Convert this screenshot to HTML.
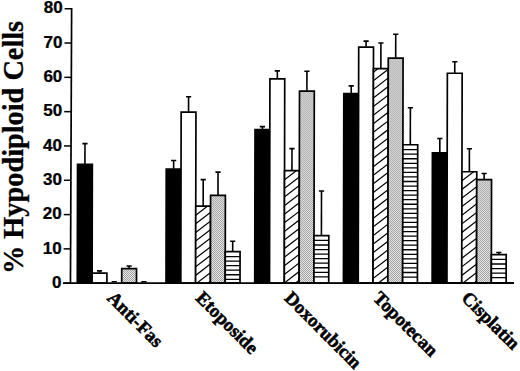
<!DOCTYPE html><html><head><meta charset="utf-8"><style>html,body{margin:0;padding:0;background:#fff;overflow:hidden;}svg{display:block;}</style></head><body>
<svg width="520" height="371" viewBox="0 0 520 371">
<defs>
<pattern id="dots" patternUnits="userSpaceOnUse" width="2" height="2"><rect width="2" height="2" fill="#f4f4f4"/><rect width="1" height="1" fill="#949494"/><rect x="1" y="1" width="1" height="1" fill="#949494"/></pattern>
<clipPath id="c00"><rect x="77.30" y="164.45" width="14.80" height="118.75"/></clipPath>
<clipPath id="c01"><rect x="92.10" y="273.05" width="14.80" height="10.15"/></clipPath>
<clipPath id="c02"><rect x="106.90" y="282.85" width="14.80" height="0.35"/></clipPath>
<clipPath id="c03"><rect x="121.70" y="268.65" width="14.80" height="14.55"/></clipPath>
<clipPath id="c04"><rect x="136.50" y="282.85" width="14.80" height="0.35"/></clipPath>
<clipPath id="c10"><rect x="166.01" y="169.05" width="14.80" height="114.15"/></clipPath>
<clipPath id="c11"><rect x="180.81" y="112.10" width="14.80" height="171.10"/></clipPath>
<clipPath id="c12"><rect x="195.61" y="206.15" width="14.80" height="77.05"/></clipPath>
<clipPath id="c13"><rect x="210.41" y="195.35" width="14.80" height="87.85"/></clipPath>
<clipPath id="c14"><rect x="225.21" y="251.65" width="14.80" height="31.55"/></clipPath>
<clipPath id="c20"><rect x="254.72" y="129.55" width="14.80" height="153.65"/></clipPath>
<clipPath id="c21"><rect x="269.52" y="78.85" width="14.80" height="204.35"/></clipPath>
<clipPath id="c22"><rect x="284.32" y="170.65" width="14.80" height="112.55"/></clipPath>
<clipPath id="c23"><rect x="299.12" y="91.05" width="14.80" height="192.15"/></clipPath>
<clipPath id="c24"><rect x="313.92" y="235.55" width="14.80" height="47.65"/></clipPath>
<clipPath id="c30"><rect x="343.43" y="93.55" width="14.80" height="189.65"/></clipPath>
<clipPath id="c31"><rect x="358.23" y="47.15" width="14.80" height="236.05"/></clipPath>
<clipPath id="c32"><rect x="373.03" y="68.65" width="14.80" height="214.55"/></clipPath>
<clipPath id="c33"><rect x="387.83" y="58.15" width="14.80" height="225.05"/></clipPath>
<clipPath id="c34"><rect x="402.63" y="144.75" width="14.80" height="138.45"/></clipPath>
<clipPath id="c40"><rect x="432.14" y="152.85" width="14.80" height="130.35"/></clipPath>
<clipPath id="c41"><rect x="446.94" y="73.25" width="14.80" height="209.95"/></clipPath>
<clipPath id="c42"><rect x="461.74" y="171.75" width="14.80" height="111.45"/></clipPath>
<clipPath id="c43"><rect x="476.54" y="179.65" width="14.80" height="103.55"/></clipPath>
<clipPath id="c44"><rect x="491.34" y="254.55" width="14.80" height="28.65"/></clipPath>
</defs>
<rect width="520" height="371" fill="#fff"/>
<g transform="translate(0.566,0) skewX(-0.1146)">
<rect x="77.30" y="164.45" width="14.80" height="118.75" fill="#000" stroke="#000" stroke-width="1.7"/>
<line x1="84.70" x2="84.70" y1="143.60" y2="164.10" stroke="#000" stroke-width="1.6"/>
<rect x="82.10" y="142.80" width="5.2" height="1.6" fill="#000"/>
<rect x="92.10" y="273.05" width="14.80" height="10.15" fill="#fff" stroke="#000" stroke-width="1.7"/>
<line x1="99.50" x2="99.50" y1="270.90" y2="272.70" stroke="#000" stroke-width="1.6"/>
<rect x="96.90" y="270.10" width="5.2" height="1.6" fill="#000"/>
<rect x="111.70" y="280.90" width="5.2" height="1.6" fill="#000"/>
<rect x="121.70" y="268.65" width="14.80" height="14.55" fill="url(#dots)" stroke="#000" stroke-width="1.7"/>
<line x1="129.10" x2="129.10" y1="266.00" y2="268.30" stroke="#000" stroke-width="1.6"/>
<rect x="126.50" y="265.20" width="5.2" height="1.6" fill="#000"/>
<rect x="141.30" y="280.90" width="5.2" height="1.6" fill="#000"/>
<rect x="166.01" y="169.05" width="14.80" height="114.15" fill="#000" stroke="#000" stroke-width="1.7"/>
<line x1="173.41" x2="173.41" y1="160.50" y2="168.70" stroke="#000" stroke-width="1.6"/>
<rect x="170.81" y="159.70" width="5.2" height="1.6" fill="#000"/>
<rect x="180.81" y="112.10" width="14.80" height="171.10" fill="#fff" stroke="#000" stroke-width="1.7"/>
<line x1="188.21" x2="188.21" y1="96.80" y2="111.75" stroke="#000" stroke-width="1.6"/>
<rect x="185.61" y="96.00" width="5.2" height="1.6" fill="#000"/>
<rect x="195.61" y="206.15" width="14.80" height="77.05" fill="#fff"/>
<path clip-path="url(#c12)" d="M194.61,207.37L211.41,194.43M194.61,215.97L211.41,203.03M194.61,224.57L211.41,211.63M194.61,233.17L211.41,220.23M194.61,241.77L211.41,228.83M194.61,250.37L211.41,237.43M194.61,258.97L211.41,246.03M194.61,267.57L211.41,254.63M194.61,276.17L211.41,263.23M194.61,284.77L211.41,271.83M194.61,293.37L211.41,280.43" stroke="#000" stroke-width="1.2" fill="none"/>
<rect x="195.61" y="206.15" width="14.80" height="77.05" fill="none" stroke="#000" stroke-width="1.7"/>
<line x1="203.01" x2="203.01" y1="179.60" y2="205.80" stroke="#000" stroke-width="1.6"/>
<rect x="200.41" y="178.80" width="5.2" height="1.6" fill="#000"/>
<rect x="210.41" y="195.35" width="14.80" height="87.85" fill="url(#dots)" stroke="#000" stroke-width="1.7"/>
<line x1="217.81" x2="217.81" y1="172.10" y2="195.00" stroke="#000" stroke-width="1.6"/>
<rect x="215.21" y="171.30" width="5.2" height="1.6" fill="#000"/>
<rect x="225.21" y="251.65" width="14.80" height="31.55" fill="#fff" stroke="#000" stroke-width="1.7"/>
<path d="M225.21,256.55H240.01M225.21,261.10H240.01M225.21,265.65H240.01M225.21,270.20H240.01M225.21,274.75H240.01M225.21,279.30H240.01" stroke="#000" stroke-width="1.3"/>
<line x1="232.61" x2="232.61" y1="241.30" y2="251.30" stroke="#000" stroke-width="1.6"/>
<rect x="230.01" y="240.50" width="5.2" height="1.6" fill="#000"/>
<rect x="254.72" y="129.55" width="14.80" height="153.65" fill="#000" stroke="#000" stroke-width="1.7"/>
<line x1="262.12" x2="262.12" y1="126.60" y2="129.20" stroke="#000" stroke-width="1.6"/>
<rect x="259.52" y="125.80" width="5.2" height="1.6" fill="#000"/>
<rect x="269.52" y="78.85" width="14.80" height="204.35" fill="#fff" stroke="#000" stroke-width="1.7"/>
<line x1="276.92" x2="276.92" y1="70.90" y2="78.50" stroke="#000" stroke-width="1.6"/>
<rect x="274.32" y="70.10" width="5.2" height="1.6" fill="#000"/>
<rect x="284.32" y="170.65" width="14.80" height="112.55" fill="#fff"/>
<path clip-path="url(#c22)" d="M283.32,171.95L300.12,159.01M283.32,180.55L300.12,167.61M283.32,189.15L300.12,176.21M283.32,197.75L300.12,184.81M283.32,206.35L300.12,193.41M283.32,214.95L300.12,202.01M283.32,223.55L300.12,210.61M283.32,232.15L300.12,219.21M283.32,240.75L300.12,227.81M283.32,249.35L300.12,236.41M283.32,257.95L300.12,245.01M283.32,266.55L300.12,253.61M283.32,275.15L300.12,262.21M283.32,283.75L300.12,270.81M283.32,292.35L300.12,279.41" stroke="#000" stroke-width="1.2" fill="none"/>
<rect x="284.32" y="170.65" width="14.80" height="112.55" fill="none" stroke="#000" stroke-width="1.7"/>
<line x1="291.72" x2="291.72" y1="148.60" y2="170.30" stroke="#000" stroke-width="1.6"/>
<rect x="289.12" y="147.80" width="5.2" height="1.6" fill="#000"/>
<rect x="299.12" y="91.05" width="14.80" height="192.15" fill="url(#dots)" stroke="#000" stroke-width="1.7"/>
<line x1="306.52" x2="306.52" y1="71.30" y2="90.70" stroke="#000" stroke-width="1.6"/>
<rect x="303.92" y="70.50" width="5.2" height="1.6" fill="#000"/>
<rect x="313.92" y="235.55" width="14.80" height="47.65" fill="#fff" stroke="#000" stroke-width="1.7"/>
<path d="M313.92,240.45H328.72M313.92,245.00H328.72M313.92,249.55H328.72M313.92,254.10H328.72M313.92,258.65H328.72M313.92,263.20H328.72M313.92,267.75H328.72M313.92,272.30H328.72M313.92,276.85H328.72" stroke="#000" stroke-width="1.3"/>
<line x1="321.32" x2="321.32" y1="191.00" y2="235.20" stroke="#000" stroke-width="1.6"/>
<rect x="318.72" y="190.20" width="5.2" height="1.6" fill="#000"/>
<rect x="343.43" y="93.55" width="14.80" height="189.65" fill="#000" stroke="#000" stroke-width="1.7"/>
<line x1="350.83" x2="350.83" y1="85.90" y2="93.20" stroke="#000" stroke-width="1.6"/>
<rect x="348.23" y="85.10" width="5.2" height="1.6" fill="#000"/>
<rect x="358.23" y="47.15" width="14.80" height="236.05" fill="#fff" stroke="#000" stroke-width="1.7"/>
<line x1="365.63" x2="365.63" y1="41.10" y2="46.80" stroke="#000" stroke-width="1.6"/>
<rect x="363.03" y="40.30" width="5.2" height="1.6" fill="#000"/>
<rect x="373.03" y="68.65" width="14.80" height="214.55" fill="#fff"/>
<path clip-path="url(#c32)" d="M372.03,72.91L388.83,59.97M372.03,81.51L388.83,68.57M372.03,90.11L388.83,77.17M372.03,98.71L388.83,85.77M372.03,107.31L388.83,94.37M372.03,115.91L388.83,102.97M372.03,124.51L388.83,111.57M372.03,133.11L388.83,120.17M372.03,141.71L388.83,128.77M372.03,150.31L388.83,137.37M372.03,158.91L388.83,145.97M372.03,167.51L388.83,154.57M372.03,176.11L388.83,163.17M372.03,184.71L388.83,171.77M372.03,193.31L388.83,180.37M372.03,201.91L388.83,188.97M372.03,210.51L388.83,197.57M372.03,219.11L388.83,206.17M372.03,227.71L388.83,214.77M372.03,236.31L388.83,223.37M372.03,244.91L388.83,231.97M372.03,253.51L388.83,240.57M372.03,262.11L388.83,249.17M372.03,270.71L388.83,257.77M372.03,279.31L388.83,266.37M372.03,287.91L388.83,274.97M372.03,296.51L388.83,283.57" stroke="#000" stroke-width="1.2" fill="none"/>
<rect x="373.03" y="68.65" width="14.80" height="214.55" fill="none" stroke="#000" stroke-width="1.7"/>
<line x1="380.43" x2="380.43" y1="43.00" y2="68.30" stroke="#000" stroke-width="1.6"/>
<rect x="377.83" y="42.20" width="5.2" height="1.6" fill="#000"/>
<rect x="387.83" y="58.15" width="14.80" height="225.05" fill="url(#dots)" stroke="#000" stroke-width="1.7"/>
<line x1="395.23" x2="395.23" y1="34.20" y2="57.80" stroke="#000" stroke-width="1.6"/>
<rect x="392.63" y="33.40" width="5.2" height="1.6" fill="#000"/>
<rect x="402.63" y="144.75" width="14.80" height="138.45" fill="#fff" stroke="#000" stroke-width="1.7"/>
<path d="M402.63,149.65H417.43M402.63,154.20H417.43M402.63,158.75H417.43M402.63,163.30H417.43M402.63,167.85H417.43M402.63,172.40H417.43M402.63,176.95H417.43M402.63,181.50H417.43M402.63,186.05H417.43M402.63,190.60H417.43M402.63,195.15H417.43M402.63,199.70H417.43M402.63,204.25H417.43M402.63,208.80H417.43M402.63,213.35H417.43M402.63,217.90H417.43M402.63,222.45H417.43M402.63,227.00H417.43M402.63,231.55H417.43M402.63,236.10H417.43M402.63,240.65H417.43M402.63,245.20H417.43M402.63,249.75H417.43M402.63,254.30H417.43M402.63,258.85H417.43M402.63,263.40H417.43M402.63,267.95H417.43M402.63,272.50H417.43M402.63,277.05H417.43" stroke="#000" stroke-width="1.3"/>
<line x1="410.03" x2="410.03" y1="107.80" y2="144.40" stroke="#000" stroke-width="1.6"/>
<rect x="407.43" y="107.00" width="5.2" height="1.6" fill="#000"/>
<rect x="432.14" y="152.85" width="14.80" height="130.35" fill="#000" stroke="#000" stroke-width="1.7"/>
<line x1="439.54" x2="439.54" y1="138.50" y2="152.50" stroke="#000" stroke-width="1.6"/>
<rect x="436.94" y="137.70" width="5.2" height="1.6" fill="#000"/>
<rect x="446.94" y="73.25" width="14.80" height="209.95" fill="#fff" stroke="#000" stroke-width="1.7"/>
<line x1="454.34" x2="454.34" y1="61.70" y2="72.90" stroke="#000" stroke-width="1.6"/>
<rect x="451.74" y="60.90" width="5.2" height="1.6" fill="#000"/>
<rect x="461.74" y="171.75" width="14.80" height="111.45" fill="#fff"/>
<path clip-path="url(#c42)" d="M460.74,172.98L477.54,160.04M460.74,181.58L477.54,168.64M460.74,190.18L477.54,177.24M460.74,198.78L477.54,185.84M460.74,207.38L477.54,194.44M460.74,215.98L477.54,203.04M460.74,224.58L477.54,211.64M460.74,233.18L477.54,220.24M460.74,241.78L477.54,228.84M460.74,250.38L477.54,237.44M460.74,258.98L477.54,246.04M460.74,267.58L477.54,254.64M460.74,276.18L477.54,263.24M460.74,284.78L477.54,271.84M460.74,293.38L477.54,280.44" stroke="#000" stroke-width="1.2" fill="none"/>
<rect x="461.74" y="171.75" width="14.80" height="111.45" fill="none" stroke="#000" stroke-width="1.7"/>
<line x1="469.14" x2="469.14" y1="148.70" y2="171.40" stroke="#000" stroke-width="1.6"/>
<rect x="466.54" y="147.90" width="5.2" height="1.6" fill="#000"/>
<rect x="476.54" y="179.65" width="14.80" height="103.55" fill="url(#dots)" stroke="#000" stroke-width="1.7"/>
<line x1="483.94" x2="483.94" y1="173.50" y2="179.30" stroke="#000" stroke-width="1.6"/>
<rect x="481.34" y="172.70" width="5.2" height="1.6" fill="#000"/>
<rect x="491.34" y="254.55" width="14.80" height="28.65" fill="#fff" stroke="#000" stroke-width="1.7"/>
<path d="M491.34,259.45H506.14M491.34,264.00H506.14M491.34,268.55H506.14M491.34,273.10H506.14M491.34,277.65H506.14" stroke="#000" stroke-width="1.3"/>
<line x1="498.74" x2="498.74" y1="252.50" y2="254.20" stroke="#000" stroke-width="1.6"/>
<rect x="496.14" y="251.70" width="5.2" height="1.6" fill="#000"/>
</g>
<line x1="71.63" y1="7.9" x2="70.45" y2="284.1" stroke="#000" stroke-width="1.7"/>
<line x1="63" y1="283.2" x2="514" y2="283.0" stroke="#000" stroke-width="1.8"/>
<line x1="63.45" y1="283.20" x2="70.45" y2="283.20" stroke="#000" stroke-width="1.5"/>
<text transform="translate(61.45,287.90) scale(1.065,1)" text-anchor="end" font-family="Liberation Sans" font-weight="bold" font-size="16" fill="#000" stroke="#000" stroke-width="0.25">0</text>
<line x1="63.60" y1="248.89" x2="70.60" y2="248.89" stroke="#000" stroke-width="1.5"/>
<text transform="translate(61.60,253.59) scale(1.065,1)" text-anchor="end" font-family="Liberation Sans" font-weight="bold" font-size="16" fill="#000" stroke="#000" stroke-width="0.25">10</text>
<line x1="63.75" y1="214.58" x2="70.75" y2="214.58" stroke="#000" stroke-width="1.5"/>
<text transform="translate(61.75,219.28) scale(1.065,1)" text-anchor="end" font-family="Liberation Sans" font-weight="bold" font-size="16" fill="#000" stroke="#000" stroke-width="0.25">20</text>
<line x1="63.89" y1="180.27" x2="70.89" y2="180.27" stroke="#000" stroke-width="1.5"/>
<text transform="translate(61.89,184.97) scale(1.065,1)" text-anchor="end" font-family="Liberation Sans" font-weight="bold" font-size="16" fill="#000" stroke="#000" stroke-width="0.25">30</text>
<line x1="64.04" y1="145.96" x2="71.04" y2="145.96" stroke="#000" stroke-width="1.5"/>
<text transform="translate(62.04,150.66) scale(1.065,1)" text-anchor="end" font-family="Liberation Sans" font-weight="bold" font-size="16" fill="#000" stroke="#000" stroke-width="0.25">40</text>
<line x1="64.19" y1="111.65" x2="71.19" y2="111.65" stroke="#000" stroke-width="1.5"/>
<text transform="translate(62.19,116.35) scale(1.065,1)" text-anchor="end" font-family="Liberation Sans" font-weight="bold" font-size="16" fill="#000" stroke="#000" stroke-width="0.25">50</text>
<line x1="64.34" y1="77.34" x2="71.34" y2="77.34" stroke="#000" stroke-width="1.5"/>
<text transform="translate(62.34,82.04) scale(1.065,1)" text-anchor="end" font-family="Liberation Sans" font-weight="bold" font-size="16" fill="#000" stroke="#000" stroke-width="0.25">60</text>
<line x1="64.48" y1="43.03" x2="71.48" y2="43.03" stroke="#000" stroke-width="1.5"/>
<text transform="translate(62.48,47.73) scale(1.065,1)" text-anchor="end" font-family="Liberation Sans" font-weight="bold" font-size="16" fill="#000" stroke="#000" stroke-width="0.25">70</text>
<line x1="64.63" y1="8.72" x2="71.63" y2="8.72" stroke="#000" stroke-width="1.5"/>
<text transform="translate(62.63,13.42) scale(1.065,1)" text-anchor="end" font-family="Liberation Sans" font-weight="bold" font-size="16" fill="#000" stroke="#000" stroke-width="0.25">80</text>
<text transform="translate(23.1,274.0) scale(1.03,1) rotate(-90)" font-family="Liberation Serif" font-weight="bold" font-size="28.3" stroke="#000" stroke-width="0.3" fill="#000">% Hypodiploid Cells</text>
<text transform="translate(106.20,299.00) rotate(45)" font-family="Liberation Serif" font-weight="bold" font-size="18.8" fill="#000" stroke="#000" stroke-width="0.55">Anti-Fas</text>
<text transform="translate(194.80,299.00) rotate(45)" font-family="Liberation Serif" font-weight="bold" font-size="18.8" fill="#000" stroke="#000" stroke-width="0.55">Etoposide</text>
<text transform="translate(283.40,299.00) rotate(45)" font-family="Liberation Serif" font-weight="bold" font-size="18.8" fill="#000" stroke="#000" stroke-width="0.55">Doxorubicin</text>
<text transform="translate(372.00,299.00) rotate(45)" font-family="Liberation Serif" font-weight="bold" font-size="18.8" fill="#000" stroke="#000" stroke-width="0.55">Topotecan</text>
<text transform="translate(460.60,299.00) rotate(45)" font-family="Liberation Serif" font-weight="bold" font-size="18.8" fill="#000" stroke="#000" stroke-width="0.55">Cisplatin</text>
</svg></body></html>
